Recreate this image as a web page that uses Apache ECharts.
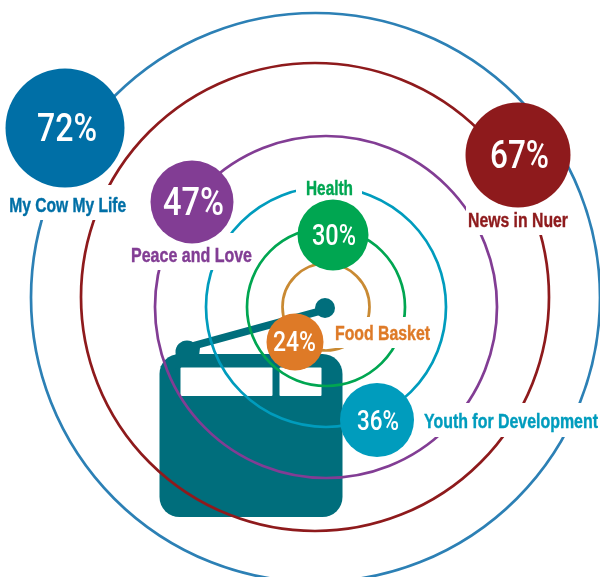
<!DOCTYPE html>
<html>
<head>
<meta charset="utf-8">
<style>html,body{margin:0;padding:0;background:#fff}#c{width:600px;height:577px}</style>
<script src="https://cdn.jsdelivr.net/npm/echarts@6/dist/echarts.min.js"></script>
</head>
<body>
<div id="c"></div>
<script>
// data
const programmes = ['My Cow My Life', 'News in Nuer', 'Peace and Love', 'Youth for Development', 'Health', 'Food Basket'];
const shares = [72, 67, 47, 36, 30, 24];

// layout and style (page units: the hidden axes run 0-600 and 0-577)
const ringCentres = [[315.5, 297.5], [315, 297], [326, 307], [326, 307], [326, 307], [326, 307]];
const ringDiameters = [569, 468, 342, 240, 158, 87];
const bubbleCentres = [[65, 128], [518, 155], [192, 202], [377, 420], [333, 235], [295, 342]];
const bubbleDiameters = [119, 105, 83, 74, 71, 57];
const percentCentres = [[67, 128.5], [519.5, 154.5], [193.5, 202], [378, 420.5], [334, 235], [294.5, 342]];
const percentWidths = [60, 59, 61, 42, 44, 43];
const percentFont = [38, 39, 38, 27, 29, 27];
const nameCentres = [[67.7, 204.5], [518, 219.5], [191.5, 255], [511, 420.5], [329.5, 187.5], [382.5, 332.5]];
const nameWidths = [117, 100, 121, 174, 47, 95];
const nameBoxes = [[7, 185, 122, 35], [466, 200, 104, 35], [129, 233, 125, 37], [422, 403, 178, 34], [296, 175, 66, 25], [333, 317, 99, 31]];
const bubbleColors = ['#006fa6', '#8e1a1c', '#823d94', '#009cbd', '#00a651', '#de7a27'];
const ringColors = ['#2c80b5', '#8e1a1c', '#823d94', '#009cbd', '#00a651', '#c98a33'];
const nameColors = ['#006fa6', '#8e1a1c', '#823d94', '#009cbd', '#00a651', '#de7a27'];
const radioColor = '#006e7c';
const NAME_FONT = 'bold 20px "Liberation Sans"';
const PCT_WEIGHT = '500';
const PCT_FAMILY = 'Roboto';
const CAP_SHIFT = 0.09; // middle of the capitals sits this far (in ems) below the middle of the line box

const measure = document.createElement('canvas').getContext('2d');
function fitScale(text, font, width) {
  measure.font = font;
  return width / measure.measureText(text).width;
}

const chart = echarts.init(document.getElementById('c'), null, {renderer: 'canvas'});
chart.setOption({
  animation: false,
  backgroundColor: '#fff',
  grid: {left: 0, right: 0, top: 0, bottom: 0},
  xAxis: {type: 'value', min: 0, max: 600, show: false},
  yAxis: {type: 'value', min: 0, max: 577, inverse: true, show: false},
  graphic: [
    {type: 'rect', z: 0, shape: {x: 159.5, y: 354, width: 183, height: 163, r: 20}, style: {fill: radioColor}},
    {type: 'circle', z: 0, shape: {cx: 187, cy: 352, r: 11.5}, style: {fill: radioColor}},
    {type: 'polygon', z: 0, shape: {points: [[160, 367], [175, 355], [193, 342], [317, 308], [320, 315], [200, 348], [199, 356], [170, 372]]}, style: {fill: radioColor}},
    {type: 'circle', z: 0, shape: {cx: 325, cy: 308, r: 10}, style: {fill: radioColor}},
    {type: 'rect', z: 0, shape: {x: 180.5, y: 367.5, width: 92, height: 28.5, r: 1}, style: {fill: '#fff'}},
    {type: 'rect', z: 0, shape: {x: 279.5, y: 367.5, width: 42, height: 28.5, r: 1}, style: {fill: '#fff'}}
  ],
  series: [
    {
      name: 'rings', type: 'scatter', z: 2, silent: true, clip: false,
      data: ringDiameters.map((d, i) => ({
        value: ringCentres[i], symbolSize: d,
        itemStyle: {color: 'transparent', borderColor: ringColors[i], borderWidth: 2.7, opacity: 1}
      }))
    },
    {
      name: 'programmes', type: 'custom', z: 3, silent: true, clip: false,
      data: programmes.map((p, i) => nameCentres[i]),
      encode: {x: 0, y: 1},
      renderItem(params, api) {
        const i = params.dataIndex;
        const c = api.coord([api.value(0), api.value(1)]);
        const b = nameBoxes[i];
        return {type: 'group', children: [
          {type: 'rect', shape: {x: b[0], y: b[1], width: b[2], height: b[3]}, style: {fill: '#fff'}},
          {type: 'text', x: c[0], y: c[1] + 20 * CAP_SHIFT, scaleX: fitScale(programmes[i], NAME_FONT, nameWidths[i]),
            style: {text: programmes[i], font: NAME_FONT, fill: nameColors[i], stroke: nameColors[i], lineWidth: 0.4, textAlign: 'center', textVerticalAlign: 'middle'}}
        ]};
      }
    },
    {
      name: 'bubbles', type: 'scatter', z: 4, silent: true,
      data: shares.map((v, i) => ({
        value: bubbleCentres[i], symbolSize: bubbleDiameters[i],
        itemStyle: {color: bubbleColors[i], opacity: 1}
      }))
    },
    {
      name: 'percent', type: 'custom', z: 5, silent: true, clip: false,
      data: shares.map((v, i) => [percentCentres[i][0], percentCentres[i][1], v]),
      encode: {x: 0, y: 1},
      renderItem(params, api) {
        const i = params.dataIndex;
        const c = api.coord([api.value(0), api.value(1)]);
        const t = api.value(2) + '%';
        const f = PCT_WEIGHT + ' ' + percentFont[i] + 'px ' + PCT_FAMILY;
        return {type: 'text', x: c[0], y: c[1] + percentFont[i] * CAP_SHIFT, scaleX: fitScale(t, f, percentWidths[i]),
          style: {text: t, font: f, fill: '#fff', textAlign: 'center', textVerticalAlign: 'middle'}};
      }
    }
  ]
});
</script>
</body>
</html>
